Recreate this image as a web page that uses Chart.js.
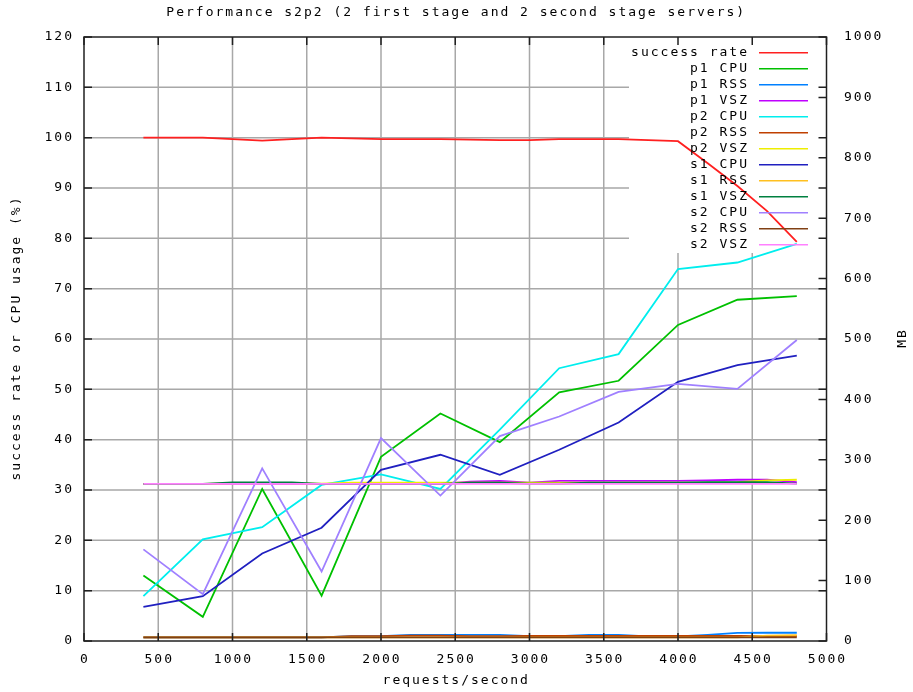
<!DOCTYPE html>
<html>
<head>
<meta charset="utf-8">
<script src="https://cdn.jsdelivr.net/npm/chart.js@4.4.0/dist/chart.umd.min.js"></script>
<style>
    body { margin: 0; background: #ffffff; }
    #wrap { width: 913px; height: 692px; position: relative; }
</style>
</head>
<body>
<div id="wrap"><canvas id="perfChart"></canvas></div>
<script>
// requests/second at which each sample was taken
const xFine = [400, 600, 800, 1000, 1200, 1400, 1600, 1800, 2000, 2200, 2400, 2600,
    2800, 3000, 3200, 3400, 3600, 3800, 4000, 4200, 4400, 4600, 4800];
const xCoarse = [400, 800, 1200, 1600, 2000, 2400, 2800, 3200, 3600, 4000, 4400, 4800];

// success rate (%), sampled on xFine
const successRate = [100, 100, 100, 99.7, 99.4, 99.7, 100, 99.85, 99.7, 99.7, 99.7, 99.6,
    99.5, 99.5, 99.7, 99.7, 99.7, 99.5, 99.3, 94.9, 90.4, 85.4, 79.3];

// CPU usage (%), sampled on xCoarse
const p1Cpu = [13.0, 4.8, 30.2, 9.0, 36.6, 45.2, 39.5, 49.4, 51.7, 62.8, 67.8, 68.5];
const p2Cpu = [8.9, 20.2, 22.6, 31.0, 33.1, 30.2, 42.0, 54.2, 57.0, 73.9, 75.2, 78.9];
const s1Cpu = [6.8, 8.9, 17.4, 22.5, 34.0, 37.0, 33.0, 38.0, 43.4, 51.5, 54.8, 56.7];
const s2Cpu = [18.2, 9.3, 34.3, 13.8, 40.3, 28.9, 40.7, 44.6, 49.5, 51.1, 50.1, 59.8];

// memory (MB), sampled on xFine
const p1Rss = [6, 6, 6, 6, 6, 6, 6, 8, 8, 10, 10, 10, 10, 8, 8, 10, 10, 7.5, 7.5, 10, 13.5, 13.7, 13.7];
const p1Vsz = [260, 260, 260, 260, 260, 260, 260, 260, 260, 260, 260, 264, 265, 262, 265, 265, 265, 265, 265, 266, 267, 267, 263];
const p2Rss = [6, 6, 6, 6, 6, 6, 6, 8, 8, 9, 9, 8, 8, 8.3, 8.3, 8.3, 8.3, 8.3, 8.3, 8.3, 8.3, 8, 8];
const p2Vsz = [260, 260, 260, 261, 261, 261, 260.5, 262, 262, 262, 262, 262, 262, 262, 262, 262, 262, 262, 262, 262, 263, 266, 267];
const s1Rss = [6, 6, 6, 6, 6, 6, 6, 6, 6, 6, 6, 6, 6, 6, 6, 6, 6, 6, 6, 6, 6, 9, 9.5];
const s1Vsz = [260, 260, 260, 262.5, 262.5, 262.5, 260, 260, 260, 260, 260, 262, 262, 260.5, 260.5, 262, 262, 262, 262, 263, 263, 263, 260.5];
const s2Rss = [6, 6, 6, 6, 6, 6, 6, 6, 6, 6, 6, 6, 6, 6, 6, 6, 6, 6, 6, 6, 6, 6, 6];
const s2Vsz = [260, 260, 260, 260, 260, 260, 260, 260, 260, 260, 260, 260, 260, 260, 260, 260, 260, 260, 260, 260, 260, 260, 260];

const FONT = '13px "DejaVu Sans Mono", "Liberation Mono", monospace';
const KEY = { left: 629, top: 37, bottom: 253 };

const pts = (xs, ys) => xs.map((x, i) => ({ x: x, y: ys[i] }));

// gnuplot order: later entries are drawn on top
const series = [
    { label: "success rate", color: "#ff2020", data: pts(xFine, successRate), axis: "y" },
    { label: "p1 CPU", color: "#00c000", data: pts(xCoarse, p1Cpu), axis: "y" },
    { label: "p1 RSS", color: "#0080ff", data: pts(xFine, p1Rss), axis: "y2" },
    { label: "p1 VSZ", color: "#c000ff", data: pts(xFine, p1Vsz), axis: "y2" },
    { label: "p2 CPU", color: "#00eeee", data: pts(xCoarse, p2Cpu), axis: "y" },
    { label: "p2 RSS", color: "#c04000", data: pts(xFine, p2Rss), axis: "y2" },
    { label: "p2 VSZ", color: "#eeee00", data: pts(xFine, p2Vsz), axis: "y2" },
    { label: "s1 CPU", color: "#2020c0", data: pts(xCoarse, s1Cpu), axis: "y" },
    { label: "s1 RSS", color: "#ffc020", data: pts(xFine, s1Rss), axis: "y2" },
    { label: "s1 VSZ", color: "#008040", data: pts(xFine, s1Vsz), axis: "y2" },
    { label: "s2 CPU", color: "#a080ff", data: pts(xCoarse, s2Cpu), axis: "y" },
    { label: "s2 RSS", color: "#804014", data: pts(xFine, s2Rss), axis: "y2" },
    { label: "s2 VSZ", color: "#ff80ff", data: pts(xFine, s2Vsz), axis: "y2" },
];

const text = (ctx, str, x, y, align, rot) => {
    ctx.save();
    ctx.translate(x, y);
    if (rot) ctx.rotate(rot);
    ctx.font = FONT;
    ctx.letterSpacing = "2px";
    ctx.fillStyle = "#000000";
    ctx.textAlign = align;
    ctx.textBaseline = "middle";
    ctx.fillText(str, align === "right" ? 2 : align === "center" ? 1 : 0, 0);
    ctx.restore();
};

const gnuplotFrame = {
    id: "gnuplotFrame",
    beforeDatasetsDraw(chart) {
        const { ctx, chartArea: a, scales } = chart;
        ctx.save();
        ctx.strokeStyle = "#a8a8a8";
        ctx.lineWidth = 1.5;
        ctx.beginPath();
        scales.x.ticks.forEach((t) => {
            if (t.value <= 0 || t.value >= 5000) return;
            const px = scales.x.getPixelForValue(t.value);
            ctx.moveTo(px, px > KEY.left ? KEY.bottom : a.top);
            ctx.lineTo(px, a.bottom);
        });
        scales.y.ticks.forEach((t) => {
            if (t.value <= 0 || t.value >= 120) return;
            const py = scales.y.getPixelForValue(t.value);
            ctx.moveTo(a.left, py);
            ctx.lineTo(py < KEY.bottom ? KEY.left : a.right, py);
        });
        ctx.stroke();
        ctx.restore();
    },
    afterDatasetsDraw(chart) {
        const { ctx, chartArea: a, scales } = chart;
        ctx.save();
        ctx.strokeStyle = "#202020";
        ctx.lineWidth = 1.5;
        ctx.beginPath();
        const tl = 8;
        scales.x.ticks.forEach((t) => {
            const px = scales.x.getPixelForValue(t.value);
            ctx.moveTo(px, a.bottom); ctx.lineTo(px, a.bottom - tl);
            ctx.moveTo(px, a.top); ctx.lineTo(px, a.top + tl);
        });
        scales.y.ticks.forEach((t) => {
            const py = scales.y.getPixelForValue(t.value);
            ctx.moveTo(a.left, py); ctx.lineTo(a.left + tl, py);
            ctx.moveTo(a.right, py); ctx.lineTo(a.right - tl, py);
        });
        scales.y2.ticks.forEach((t) => {
            const py = scales.y2.getPixelForValue(t.value);
            ctx.moveTo(a.right, py); ctx.lineTo(a.right - tl, py);
        });
        ctx.stroke();
        ctx.strokeRect(a.left, a.top, a.right - a.left, a.bottom - a.top);
        ctx.restore();

        // tick labels
        scales.x.ticks.forEach((t) => {
            text(ctx, String(t.value), scales.x.getPixelForValue(t.value), 660, "center");
        });
        scales.y.ticks.forEach((t) => {
            text(ctx, String(t.value), 72, scales.y.getPixelForValue(t.value), "right");
        });
        scales.y2.ticks.forEach((t) => {
            text(ctx, String(t.value), 844, scales.y2.getPixelForValue(t.value), "left");
        });

        // titles
        const cx = (a.left + a.right) / 2;
        const cy = (a.top + a.bottom) / 2;
        text(ctx, "Performance s2p2 (2 first stage and 2 second stage servers)", cx, 13, "center");
        text(ctx, "requests/second", cx, 681, "center");
        text(ctx, "success rate or CPU usage (%)", 17, cy, "center", -Math.PI / 2);
        text(ctx, "MB", 903, cy, "center", -Math.PI / 2);

        // key
        series.forEach((s, i) => {
            const y = 52.7 + i * 16;
            text(ctx, s.label, 747, y, "right");
            ctx.save();
            ctx.strokeStyle = s.color;
            ctx.lineWidth = 1.5;
            ctx.beginPath();
            ctx.moveTo(759, y);
            ctx.lineTo(808, y);
            ctx.stroke();
            ctx.restore();
        });
    },
};

const ctx = document.getElementById("perfChart").getContext("2d");

new Chart(ctx, {
    type: "line",
    data: {
        datasets: series.map((s, i) => ({
            label: s.label,
            data: s.data,
            yAxisID: s.axis,
            borderColor: s.color,
            backgroundColor: s.color,
            borderWidth: 1.8,
            pointRadius: 0,
            tension: 0,
            fill: false,
            order: series.length - i,
        })),
    },
    options: {
        responsive: true,
        maintainAspectRatio: false,
        animation: false,
        layout: { padding: { top: 37, left: 0, right: 0, bottom: 0 } },
        plugins: {
            legend: { display: false },
            tooltip: { enabled: false },
            title: { display: false },
        },
        scales: {
            x: {
                type: "linear",
                min: 0,
                max: 5000,
                ticks: { stepSize: 500, display: false },
                grid: { display: false },
                border: { display: false },
                afterFit: (scale) => { scale.height = 51; },
            },
            y: {
                position: "left",
                min: 0,
                max: 120,
                ticks: { stepSize: 10, display: false },
                grid: { display: false },
                border: { display: false },
                afterFit: (scale) => { scale.width = 84; },
            },
            y2: {
                position: "right",
                min: 0,
                max: 1000,
                ticks: { stepSize: 100, display: false },
                grid: { display: false },
                border: { display: false },
                afterFit: (scale) => { scale.width = 86.5; },
            },
        },
    },
    plugins: [gnuplotFrame],
});
</script>
</body>
</html>
